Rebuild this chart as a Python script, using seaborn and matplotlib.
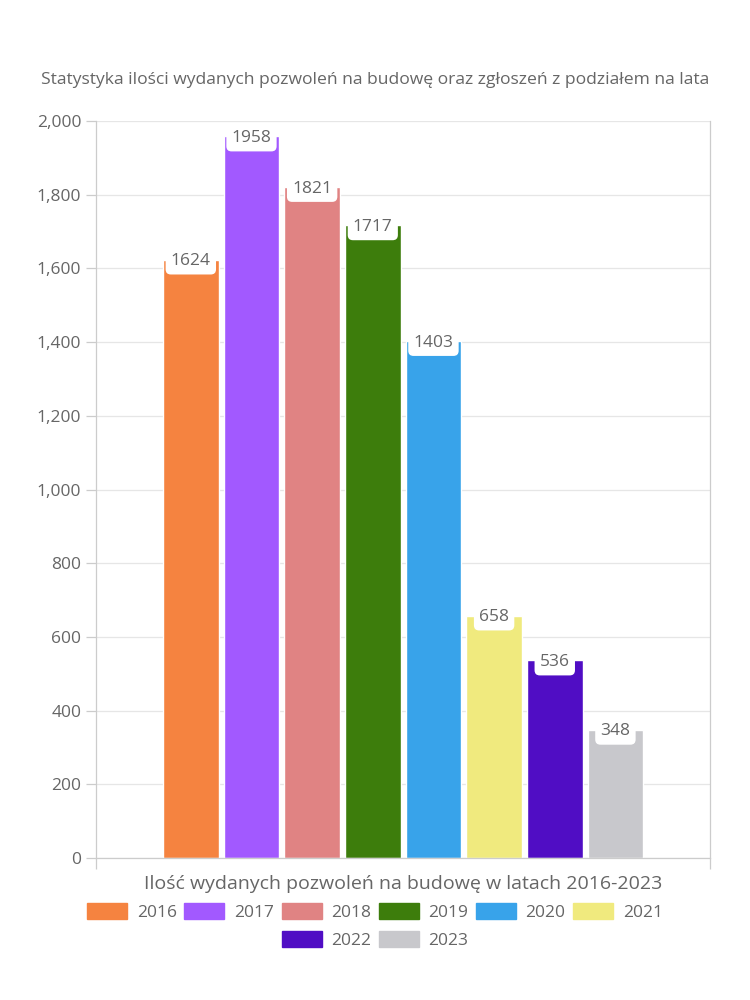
import pandas as pd
import matplotlib.pyplot as plt
import matplotlib.ticker as mticker
import seaborn as sns

# dane z wykresu
lata = ['2016', '2017', '2018', '2019', '2020', '2021', '2022', '2023']
pozwolenia = [1624, 1958, 1821, 1717, 1403, 658, 536, 348]
kolory = ['#F58340', '#A259FF', '#E08383', '#3D7D0C', '#38A3EA', '#F0EA7E', '#500DC4', '#C8C8CC']
kategoria = 'Ilość wydanych pozwoleń na budowę w latach 2016-2023'

df = pd.DataFrame({'kat': [kategoria] * len(lata), 'rok': lata, 'ilosc': pozwolenia})

sns.set_style('white')
plt.rcParams['font.family'] = ['Open Sans', 'DejaVu Sans']
szary = '#666666'

fig = plt.figure(figsize=(7.5, 10), dpi=100)
ax = fig.add_axes([0.128, 0.142, 0.819, 0.737])

sns.barplot(data=df, x='kat', y='ilosc', hue='rok', palette=kolory,
            width=0.79, gap=0.08, saturation=1, ax=ax, legend=False)

ax.set_ylim(0, 2000)
ax.set_xlim(-0.5, 0.5)
ax.yaxis.set_major_locator(mticker.MultipleLocator(200))
ax.yaxis.set_major_formatter(mticker.StrMethodFormatter('{x:,.0f}'))
ax.grid(axis='y', color='#e6e6e6', linewidth=0.9)
ax.set_axisbelow(True)
for s in ['left', 'bottom', 'right']:
    ax.spines[s].set_color('#cccccc')
    ax.spines[s].set_linewidth(0.9)
ax.spines['top'].set_visible(False)
ax.tick_params(axis='y', colors='#cccccc', labelcolor=szary, labelsize=12.5, length=7, width=0.9, left=True)
ax.set_xticks([-0.5, 0.5])
ax.set_xticklabels(['', ''])
ax.tick_params(axis='x', colors='#cccccc', length=8, width=0.9, bottom=True)
ax.set_ylabel('')
ax.set_xlabel(kategoria, fontsize=14, color=szary, labelpad=1)

# etykiety wartosci
for kont in ax.containers:
    ax.bar_label(kont, padding=-7, fontsize=12.5, color=szary,
                 bbox=dict(boxstyle='round,pad=0.3,rounding_size=0.3', fc='white', ec='none'))

fig.text(0.5, 0.92, 'Statystyka ilości wydanych pozwoleń na budowę oraz zgłoszeń z podziałem na lata',
         ha='center', va='center', fontsize=12.6, color=szary)

# legenda w dwoch wierszach, wysrodkowana
uchwyty = [plt.Rectangle((0, 0), 1, 1, color=k) for k in kolory]
opcje = dict(loc='center', frameon=False, fontsize=12.5, handlelength=2.3, handleheight=1.0,
             columnspacing=0.45, handletextpad=0.55, labelcolor=szary)
leg1 = fig.legend(uchwyty[:6], lata[:6], bbox_to_anchor=(0.5, 0.088), ncol=6, **opcje)
leg2 = fig.legend(uchwyty[6:], lata[6:], bbox_to_anchor=(0.5, 0.06), ncol=2, **opcje)

fig.savefig('out.png', dpi=100)
